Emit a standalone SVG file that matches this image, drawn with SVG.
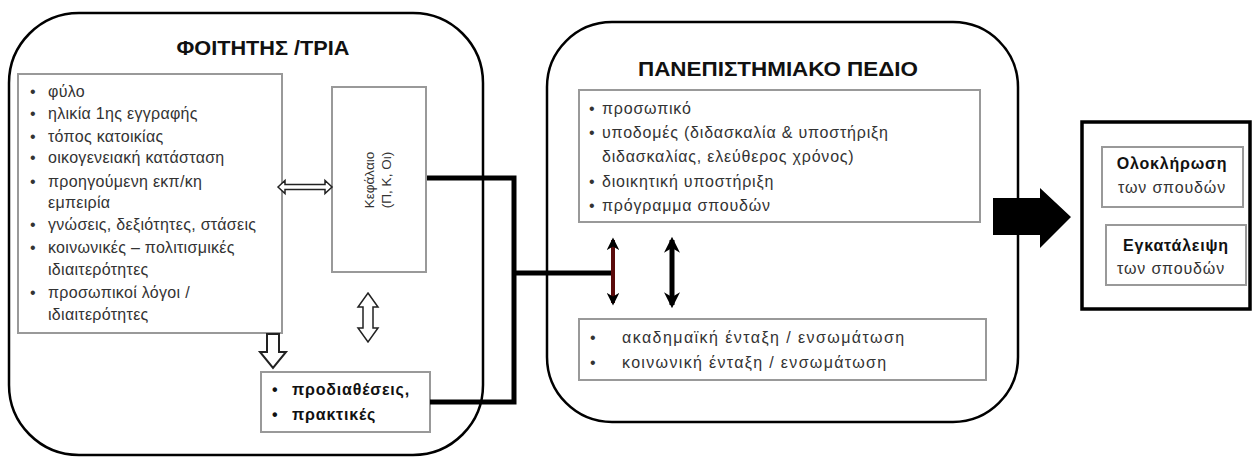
<svg xmlns="http://www.w3.org/2000/svg" width="1255" height="458" viewBox="0 0 1255 458">
<style>
text{font-family:"Liberation Sans","Noto Sans",sans-serif;fill:#333}
.t{font-weight:bold;font-size:21px;fill:#111;text-anchor:middle}
.l{font-size:16px;letter-spacing:0.3px}
.r{font-size:16px;letter-spacing:0.8px}
.b{font-weight:bold;fill:#111}
.c{text-anchor:middle}
.big{fill:#fff;stroke:#000;stroke-width:2.5}
.box{fill:#fff;stroke:#999;stroke-width:2}
.hol{fill:#fff;stroke:#222;stroke-width:1.5}
.con{fill:none;stroke:#000;stroke-width:5}
</style>
<defs>
<marker id="ah" viewBox="0 0 10 10" refX="8" refY="5" markerWidth="3.2" markerHeight="3.2" orient="auto-start-reverse" markerUnits="strokeWidth">
<path d="M0,0 L10,5 L0,10 L3,5 z" fill="#000"/>
</marker>
</defs>

<g id="student">
<rect class="big" x="9" y="13" width="474" height="442" rx="70" ry="70"/>
<text class="t" x="263" y="55" textLength="173" lengthAdjust="spacingAndGlyphs">ΦΟΙΤΗΤΗΣ /ΤΡΙΑ</text>
</g>

<g id="student-traits">
<rect class="box" x="18" y="74" width="264" height="259"/>
<g class="l">
<text x="30" y="97">•</text><text x="48" y="97">φύλο</text>
<text x="30" y="119">•</text><text x="48" y="119">ηλικία 1ης εγγραφής</text>
<text x="30" y="142">•</text><text x="48" y="142">τόπος κατοικίας</text>
<text x="30" y="163">•</text><text x="48" y="163">οικογενειακή κατάσταση</text>
<text x="30" y="187">•</text><text x="48" y="187">προηγούμενη εκπ/κη</text>
<text x="48" y="208">εμπειρία</text>
<text x="30" y="230">•</text><text x="48" y="230">γνώσεις, δεξιότητες, στάσεις</text>
<text x="30" y="253">•</text><text x="48" y="253">κοινωνικές – πολιτισμικές</text>
<text x="48" y="275">ιδιαιτερότητες</text>
<text x="30" y="298">•</text><text x="48" y="298">προσωπικοί λόγοι /</text>
<text x="48" y="320">ιδιαιτερότητες</text>
</g>
</g>

<g id="capital">
<rect class="box" x="332" y="87" width="94" height="185"/>
<text class="c" transform="translate(374,180) rotate(-90)" style="font-size:13.5px">Κεφάλαιο</text>
<text class="c" transform="translate(391,180) rotate(-90)" style="font-size:13.5px">(Π, Κ, Οι)</text>
</g>

<g id="dispositions">
<rect class="box" x="261" y="372" width="169" height="60"/>
<text class="r b" x="272" y="395">•</text><text class="r b" x="292" y="395">προδιαθέσεις,</text>
<text class="r b" x="272" y="420">•</text><text class="r b" x="292" y="420">πρακτικές</text>
</g>

<g id="university">
<rect class="big" x="547" y="22" width="471" height="400" rx="65" ry="65"/>
<text class="t" x="778" y="76" textLength="280" lengthAdjust="spacingAndGlyphs">ΠΑΝΕΠΙΣΤΗΜΙΑΚΟ ΠΕΔΙΟ</text>
</g>

<g id="university-factors">
<rect class="box" x="579" y="90" width="401" height="132"/>
<g class="r">
<text x="589" y="114">•</text><text x="602" y="114">προσωπικό</text>
<text x="589" y="138">•</text><text x="602" y="138">υποδομές (διδασκαλία &amp; υποστήριξη</text>
<text x="602" y="162">διδασκαλίας, ελεύθερος χρόνος)</text>
<text x="589" y="187">•</text><text x="602" y="187">διοικητική υποστήριξη</text>
<text x="589" y="211">•</text><text x="602" y="211">πρόγραμμα σπουδών</text>
</g>
</g>

<g id="integration">
<rect class="box" x="579" y="319" width="407" height="61"/>
<g class="r">
<text x="590" y="343">•</text><text x="622" y="343" textLength="283">ακαδημαϊκή ένταξη / ενσωμάτωση</text>
<text x="590" y="368">•</text><text x="622" y="368" textLength="265">κοινωνική ένταξη / ενσωμάτωση</text>
</g>
</g>

<g id="outcome">
<rect x="1082" y="122" width="168" height="187" fill="#fff" stroke="#000" stroke-width="3.5"/>
<rect class="box" x="1102" y="147" width="141" height="60"/>
<text class="r b c" x="1172" y="169">Ολοκλήρωση</text>
<text class="r" x="1118" y="193" textLength="108">των σπουδών</text>
<rect class="box" x="1106" y="225" width="140" height="60"/>
<text class="r b c" x="1176" y="251">Εγκατάλειψη</text>
<text class="r" x="1117" y="274" textLength="108">των σπουδών</text>
</g>

<g id="connectors">
<path class="hol" d="M278,187 L285,180.5 L285,184.5 L325,184.5 L325,180.5 L332,187 L325,193.5 L325,189.5 L285,189.5 L285,193.5 z"/>
<path class="hol" d="M368,293 L378,307 L373,307 L373,328 L378,328 L368,342 L358,328 L363,328 L363,307 L358,307 z"/>
<path class="hol" d="M267,334 L279,334 L279,352 L286,352 L273,368 L260,352 L267,352 z" style="stroke-width:2"/>
<polyline class="con" points="427,178 514,178 514,402 430,402"/>
<line class="con" x1="514" y1="273" x2="612" y2="273"/>
<line x1="613" y1="240" x2="613" y2="303" stroke="#5a0a0a" stroke-width="4" marker-start="url(#ah)" marker-end="url(#ah)"/>
<line x1="672" y1="240" x2="672" y2="305" stroke="#000" stroke-width="5" marker-start="url(#ah)" marker-end="url(#ah)"/>
<path d="M993,198 L1040,198 L1040,188 L1071,217 L1040,248 L1040,235 L993,235 z" fill="#000"/>
</g>
</svg>
